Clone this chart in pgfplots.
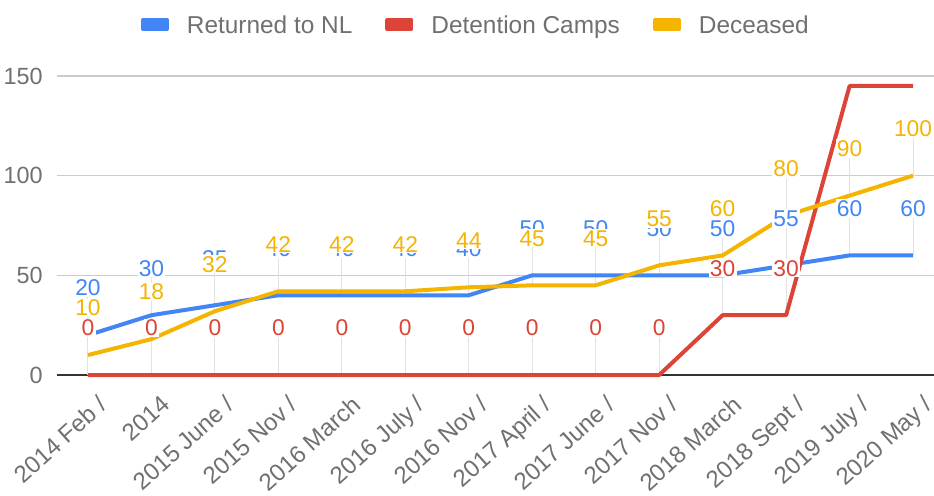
\documentclass[border=0pt]{standalone}
\usepackage{fontspec}
\setmainfont{Liberation Sans}
\usepackage{pgfplots}
\usepackage{pgfplotstable}
\pgfplotsset{compat=1.18}
\definecolor{blueC}{HTML}{4285F4}
\definecolor{redC}{HTML}{DB4437}
\definecolor{yellowC}{HTML}{F4B400}
\definecolor{txt}{HTML}{707070}
\definecolor{gridc}{HTML}{CCCCCC}
\definecolor{stemc}{HTML}{E2E2E2}
\definecolor{basec}{HTML}{333333}

\pgfplotstableread{
x blue red yellow
0 20 0 10
1 30 0 18
2 35 0 32
3 40 0 42
4 40 0 42
5 40 0 42
6 40 0 44
7 50 0 45
8 50 0 45
9 50 0 55
10 50 30 60
11 55 30 80
12 60 145 90
13 60 145 100
}\data

\pgfplotsset{
  stem/.style={draw=none, forget plot, mark=none,
    error bars/y dir=plus, error bars/y fixed=19.5,
    error bars/error bar style={stemc, line width=0.5pt, solid}},
  lab/.style={draw=none, forget plot, mark=none, point meta=y,
    nodes near coords,
    nodes near coords style={text=#1, fill=white, inner sep=0.6pt,
      anchor=center, yshift=23.5pt, font=\fontsize{11.4}{13}\selectfont}},
}

\begin{document}
\begin{tikzpicture}
\begin{axis}[
  at={(28.5pt,60pt)}, anchor=south west,
  scale only axis, width=438.5pt, height=149.5pt,
  xmin=-0.488, xmax=13.33, ymin=0, ymax=150,
  clip=false,
  axis line style={draw=none},
  major tick length=0pt,
  xtick={0,...,13},
  xticklabels={{2014 Feb /},{2014},{2015 June /},{2015 Nov /},{2016 March},{2016 July /},{2016 Nov /},{2017 April /},{2017 June /},{2017 Nov /},{2018 March},{2018 Sept /},{2019 July /},{2020 May /}},
  ytick={0,50,100,150},
  ymajorgrids, grid style={gridc, line width=0.75pt},
  extra y ticks={0}, extra y tick labels={},
  extra y tick style={grid style={basec, line width=1.2pt}},
  /pgf/number format/assume math mode=true,
  ticklabel style={font=\fontsize{11.7}{14}\selectfont, text=txt},
  yticklabel style={anchor=east, inner sep=0pt, xshift=-7pt},
  xticklabel style={anchor=north east, inner sep=0pt, text depth=0pt, xshift=4.5pt, yshift=-9.5pt, rotate=42, font=\fontsize{12}{14}\selectfont},
  legend style={at={(0.4765,1.1655)}, anchor=center, draw=none, fill=none,
    font=\fontsize{12.2}{14}\selectfont, text=txt, inner sep=0pt,
    nodes={inner sep=0pt},
    /tikz/every odd column/.append style={column sep=9pt},
    /tikz/every even column/.append style={column sep=16.5pt}},
  legend columns=3,
  legend image code/.code={\fill[#1] (0pt,-1.25pt) rectangle (12pt,3.25pt);},
]
% stems
\addplot[stem] table[x=x,y=blue]{\data};
\addplot[stem, restrict x to domain=0:11] table[x=x,y=red]{\data};
\addplot[stem] table[x=x,y=yellow]{\data};
% lines
\addplot[blueC, line width=2pt, line join=round] table[x=x,y=blue]{\data};
\addlegendentry{Returned to NL}
\addplot[redC, line width=2pt, line join=round] table[x=x,y=red]{\data};
\addlegendentry{Detention Camps}
\addplot[yellowC, line width=2pt, line join=round] table[x=x,y=yellow]{\data};
\addlegendentry{Deceased}
% labels
\addplot[lab=blueC] table[x=x,y=blue]{\data};
\addplot[lab=redC, restrict x to domain=0:11] table[x=x,y=red]{\data};
\addplot[lab=yellowC] table[x=x,y=yellow]{\data};
\end{axis}
\pgfresetboundingbox
\path[use as bounding box] (0,0) rectangle (467pt,247.5pt);
\end{tikzpicture}
\end{document}
